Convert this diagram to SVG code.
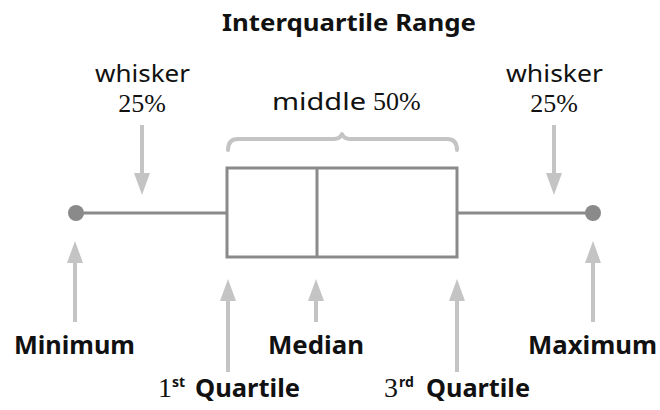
<svg xmlns="http://www.w3.org/2000/svg" xmlns:xlink="http://www.w3.org/1999/xlink" width="660" height="410" viewBox="0 0 660 410">
  <style>
    .sans { font-family: "Noto Sans", "Open Sans", sans-serif; fill: #111; }
    .bold { font-weight: 700; }
    .serif { font-family: "Liberation Serif", "Times New Roman", serif; fill: #111; }
    .plot { stroke: #8a8a8a; stroke-width: 3; fill: none; }
    .dot { fill: #8a8a8a; }
    .pointer { stroke: #c4c4c4; stroke-width: 4; fill: none; }
    .head { fill: #c4c4c4; }
    .brace { stroke: #c4c4c4; stroke-width: 4; fill: none; stroke-linecap: round; stroke-linejoin: round; }
  </style>
  <defs>
    <!-- arrowhead pointing down, tip at origin -->
    <polygon id="headDown" class="head" points="0,0 -8,-22 8,-22"/>
    <!-- arrowhead pointing up, tip at origin -->
    <polygon id="headUp" class="head" points="0,0 -8,22 8,22"/>
  </defs>

  <rect width="660" height="410" fill="#fff"/>

  <!-- title -->
  <text id="title" class="sans bold" x="222" y="31" font-size="23.5" textLength="254" lengthAdjust="spacingAndGlyphs">Interquartile Range</text>

  <!-- box plot -->
  <g id="whisker-left">
    <line class="plot" x1="76" y1="213" x2="227" y2="213"/>
  </g>
  <g id="whisker-right">
    <line class="plot" x1="457" y1="213" x2="593" y2="213"/>
  </g>
  <g id="box">
    <rect class="plot" x="227" y="168" width="230" height="89"/>
    <line class="plot" x1="317" y1="168" x2="317" y2="257"/>
  </g>
  <g id="minimum-point">
    <circle class="dot" cx="76" cy="213" r="8"/>
  </g>
  <g id="maximum-point">
    <circle class="dot" cx="593" cy="213" r="8"/>
  </g>

  <!-- brace over the box -->
  <g id="middle-brace">
    <path class="brace" d="M228,150 Q228,139 238,139 L334,139 Q340,139 342,134 Q344,139 350,139 L447,139 Q457,139 457,150"/>
  </g>

  <!-- pointers -->
  <g id="connectors">
    <line class="pointer" x1="142" y1="125" x2="142" y2="175"/>
    <use xlink:href="#headDown" x="142" y="195"/>
    <line class="pointer" x1="554" y1="125" x2="554" y2="175"/>
    <use xlink:href="#headDown" x="554" y="195"/>

    <line class="pointer" x1="75" y1="261" x2="75" y2="322"/>
    <use xlink:href="#headUp" x="75" y="241"/>
    <line class="pointer" x1="228" y1="299" x2="228" y2="372"/>
    <use xlink:href="#headUp" x="228" y="279"/>
    <line class="pointer" x1="316" y1="299" x2="316" y2="322"/>
    <use xlink:href="#headUp" x="316" y="279"/>
    <line class="pointer" x1="457" y1="299" x2="457" y2="372"/>
    <use xlink:href="#headUp" x="457" y="279"/>
    <line class="pointer" x1="593" y1="261" x2="593" y2="322"/>
    <use xlink:href="#headUp" x="593" y="241"/>
  </g>

  <!-- upper labels -->
  <g id="label-whisker-left">
    <text class="sans" x="95" y="82" font-size="24" textLength="95" lengthAdjust="spacingAndGlyphs">whisker</text>
    <text class="serif" x="142" y="112" font-size="26" text-anchor="middle">25%</text>
  </g>
  <g id="label-whisker-right">
    <text class="sans" x="506" y="82" font-size="24" textLength="97" lengthAdjust="spacingAndGlyphs">whisker</text>
    <text class="serif" x="554" y="112" font-size="26" text-anchor="middle">25%</text>
  </g>
  <g id="label-middle">
    <text class="sans" x="272" y="110" font-size="24" textLength="94" lengthAdjust="spacingAndGlyphs">middle</text>
    <text class="serif" x="373" y="110" font-size="26">50%</text>
  </g>

  <!-- lower labels -->
  <g id="label-minimum">
    <text class="sans bold" x="14" y="354" font-size="25" textLength="121" lengthAdjust="spacingAndGlyphs">Minimum</text>
  </g>
  <g id="label-median">
    <text class="sans bold" x="268" y="354" font-size="25" textLength="96" lengthAdjust="spacingAndGlyphs">Median</text>
  </g>
  <g id="label-maximum">
    <text class="sans bold" x="528" y="354" font-size="25" textLength="129" lengthAdjust="spacingAndGlyphs">Maximum</text>
  </g>
  <g id="label-q1">
    <text class="serif" x="158" y="397" font-size="28">1</text>
    <text class="sans bold" x="172" y="387" font-size="14">st</text>
    <text class="sans bold" x="195" y="397" font-size="25" textLength="105" lengthAdjust="spacingAndGlyphs">Quartile</text>
  </g>
  <g id="label-q3">
    <text class="serif" x="384" y="397" font-size="28">3</text>
    <text class="sans bold" x="399" y="387" font-size="14">rd</text>
    <text class="sans bold" x="426" y="397" font-size="25" textLength="104" lengthAdjust="spacingAndGlyphs">Quartile</text>
  </g>
</svg>
